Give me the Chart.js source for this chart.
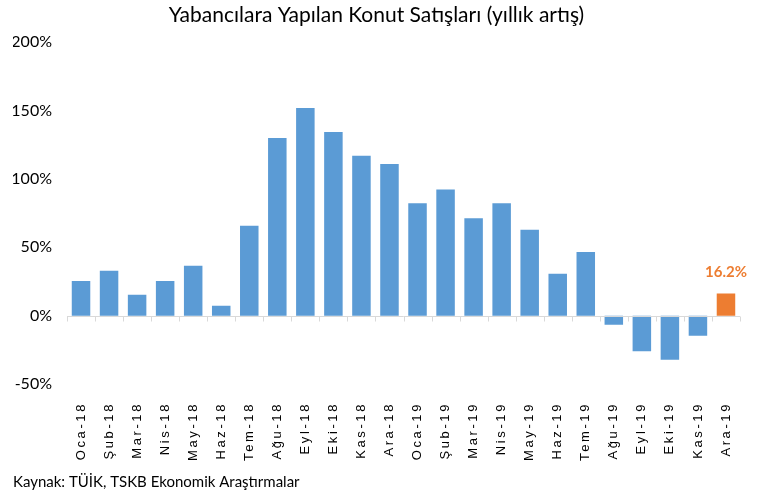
<!DOCTYPE html>
<html>
<head>
<meta charset="utf-8">
<script src="https://cdn.jsdelivr.net/npm/chart.js@4"></script>
<style>
  html, body { margin: 0; padding: 0; background: #fff; }
  #wrap { width: 769px; height: 499px; position: relative; }
</style>
</head>
<body>
<div id="wrap"><canvas id="chart" width="769" height="499"></canvas></div>
<script>
// months, Jan 2018 .. Dec 2019
const months = [
  "Oca-18", "Şub-18", "Mar-18", "Nis-18", "May-18", "Haz-18",
  "Tem-18", "Ağu-18", "Eyl-18", "Eki-18", "Kas-18", "Ara-18",
  "Oca-19", "Şub-19", "Mar-19", "Nis-19", "May-19", "Haz-19",
  "Tem-19", "Ağu-19", "Eyl-19", "Eki-19", "Kas-19", "Ara-19",
];

// yearly change in foreign home sales, %
const yoyChange = [
  25.3, 32.8, 15.3, 25.3, 36.5, 7.3,
  65.7, 130, 151.8, 134.3, 117, 111,
  82.2, 92.2, 71.3, 82.2, 62.8, 30.7,
  46.5, -6.6, -26, -32.3, -14.8, 16.2,
];

const yTicks = [-50, 0, 50, 100, 150, 200];

const blue = "#5B9BD5";
const orange = "#ED7D31";
const lastIdx = months.length - 1;

// zero line with small category ticks, like the Excel axis
const zeroAxis = {
  id: "zeroAxis",
  afterDatasetsDraw(chart) {
    const { ctx, scales: { x, y } } = chart;
    const y0 = Math.round(y.getPixelForValue(0)) + 0.5;
    const step = x.getPixelForValue(1) - x.getPixelForValue(0);
    ctx.save();
    ctx.strokeStyle = "#d9d9d9";
    ctx.lineWidth = 1;
    ctx.beginPath();
    ctx.moveTo(x.left, y0);
    ctx.lineTo(x.right, y0);
    for (let i = 0; i <= months.length; i++) {
      const px = Math.round(x.getPixelForValue(i) - step / 2) + 0.5;
      ctx.moveTo(px, y0);
      ctx.lineTo(px, y0 + 5);
    }
    ctx.stroke();
    ctx.restore();
  },
};

// label for the latest month only
const lastLabel = {
  id: "lastLabel",
  afterDatasetsDraw(chart) {
    const bar = chart.getDatasetMeta(0).data[lastIdx];
    const { ctx } = chart;
    ctx.save();
    ctx.font = "bold 15px Lato, sans-serif";
    ctx.fillStyle = orange;
    ctx.textAlign = "center";
    ctx.textBaseline = "bottom";
    ctx.fillText(yoyChange[lastIdx].toFixed(1) + "%", bar.x, bar.y - 14);
    ctx.restore();
  },
};

// month labels in the reference are spaced out; widen them a bit
const spacedMonthLabels = {
  id: "spacedMonthLabels",
  beforeDraw(chart) {
    const x = chart.scales.x;
    if (x._spaced) return;
    x._spaced = true;
    const orig = x.drawLabels;
    x.drawLabels = function (area) {
      this.ctx.letterSpacing = "2.6px";
      orig.call(this, area);
      this.ctx.letterSpacing = "0px";
    };
  },
};

new Chart(document.getElementById("chart"), {
  type: "bar",
  data: {
    labels: months,
    datasets: [{
      data: yoyChange,
      backgroundColor: yoyChange.map((v, i) => (i === lastIdx ? orange : blue)),
      categoryPercentage: 1,
      barPercentage: 0.66,
    }],
  },
  options: {
    responsive: false,
    animation: false,
    layout: { padding: { left: 13, right: 29, top: 0, bottom: 0 } },
    plugins: {
      legend: { display: false },
      tooltip: { enabled: false },
      title: {
        display: true,
        text: "Yabancılara Yapılan Konut Satışları (yıllık artış)",
        color: "#000",
        font: { family: "Lato, sans-serif", size: 21, weight: "normal" },
        padding: { top: 3, bottom: 14 },
      },
      subtitle: {
        display: true,
        position: "bottom",
        align: "start",
        text: "Kaynak: TÜİK, TSKB Ekonomik Araştırmalar",
        color: "#000",
        font: { family: "Lato, sans-serif", size: 15 },
        padding: { top: 4, bottom: 8 },
      },
    },
    scales: {
      x: {
        afterFit: (scale) => { scale.height = 85; },
        grid: { display: false },
        border: { display: false },
        ticks: {
          color: "#000",
          font: { family: "Liberation Sans, sans-serif", size: 13 },
          maxRotation: 90,
          minRotation: 90,
          autoSkip: false,
          padding: 10,
        },
      },
      y: {
        min: -50,
        max: 200,
        afterBuildTicks: (scale) => { scale.ticks = yTicks.map((v) => ({ value: v })); },
        afterFit: (scale) => { scale.width = 54; },
        grid: { display: false },
        border: { display: false },
        ticks: {
          color: "#000",
          font: { family: "Lato, sans-serif", size: 16 },
          padding: 7,
          callback: (v) => v + "%",
        },
      },
    },
  },
  plugins: [zeroAxis, lastLabel, spacedMonthLabels],
});
</script>
</body>
</html>
